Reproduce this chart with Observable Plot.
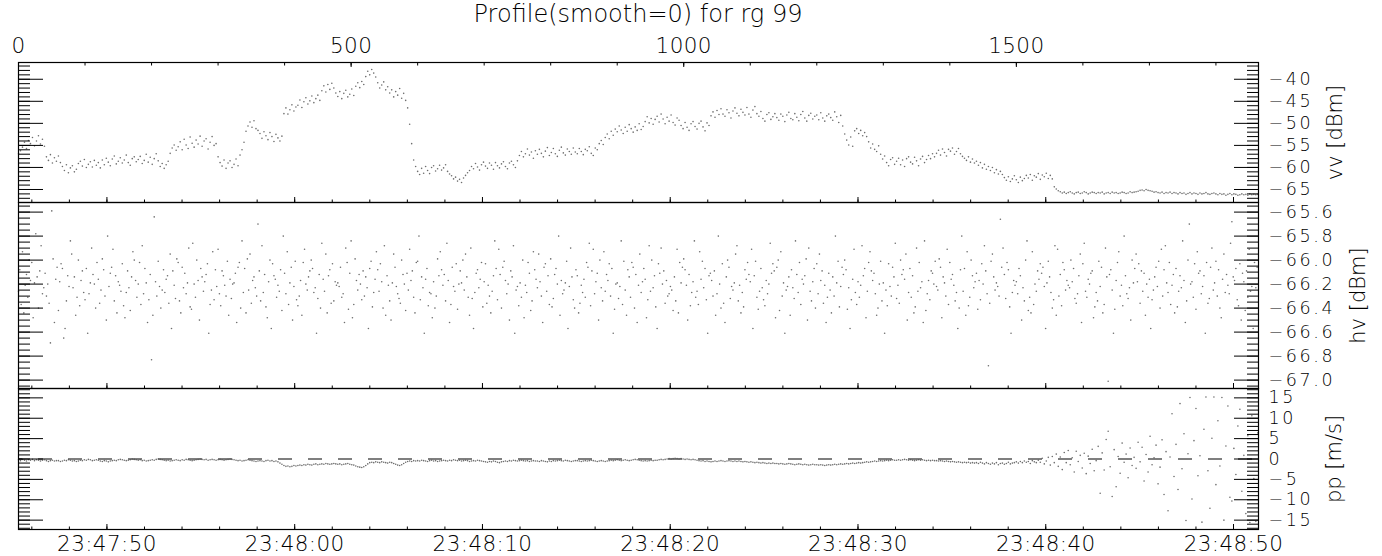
<!DOCTYPE html>
<html><head><meta charset="utf-8">
<script src="https://cdn.jsdelivr.net/npm/d3@7"></script>
<script src="https://cdn.jsdelivr.net/npm/@observablehq/plot@0.6"></script>
<style>
html,body{margin:0;padding:0;background:#fff;}
#chart{position:relative;width:1382px;height:556px;overflow:hidden;font-family:"DejaVu Sans",sans-serif;}
#chart svg{position:absolute;left:0;top:0;}
#title{position:absolute;left:18px;width:1240px;top:0;text-align:center;font-size:24px;line-height:28px;font-weight:200;color:#000;font-family:"DejaVu Sans",sans-serif;}
</style></head>
<body><div id="chart"><div id="title">Profile(smooth=0) for rg 99</div></div>
<script>
// ---- data (one value every <series>Step samples) ----
const sampleCount = 1864;
const vvStep = 3;
const vvValues = [
-56.9,-56.2,-55.4,-54.3,-55.7,-53.9,-54.6,-53.2,-55.1,-54.0,-52.8,-54.7,-53.6,-55.2,-57.6,-58.4,-57.1,-59.0,-57.8,-58.6,
-57.4,-58.9,-59.8,-60.7,-59.4,-61.2,-60.1,-59.6,-61.0,-60.4,-59.1,-58.6,-59.7,-58.2,-60.0,-59.3,-58.7,-59.9,-58.4,-59.5,
-58.9,-60.1,-58.3,-59.4,-57.9,-58.8,-59.6,-58.1,-57.4,-59.2,-58.6,-57.8,-59.0,-58.3,-57.2,-58.9,-59.5,-58.0,-57.6,-58.7,
-58.2,-57.5,-59.1,-58.4,-57.0,-58.8,-57.7,-59.3,-58.0,-56.9,-58.5,-59.8,-59.1,-60.2,-59.4,-58.6,-56.8,-55.6,-54.9,-56.1,
-55.3,-54.2,-56.0,-53.6,-54.9,-55.7,-53.1,-54.5,-55.4,-53.8,-54.7,-52.9,-55.2,-54.0,-53.5,-55.8,-54.3,-53.0,-55.0,-54.6,
-57.6,-58.9,-59.7,-58.3,-60.2,-59.0,-58.5,-60.0,-59.3,-58.1,-59.6,-57.2,-56.0,-54.3,-51.8,-50.6,-49.7,-50.9,-49.4,-51.2,
-51.6,-52.3,-53.4,-51.9,-52.8,-53.7,-52.1,-53.0,-54.1,-52.5,-53.3,-54.0,-52.9,-47.8,-46.5,-47.9,-46.9,-45.8,-47.2,-46.3,
-45.9,-44.7,-46.4,-45.1,-44.2,-45.6,-44.9,-43.8,-45.3,-44.4,-43.6,-44.8,-42.6,-41.5,-42.9,-41.2,-42.3,-40.9,-42.0,-43.1,
-43.9,-42.8,-44.4,-43.2,-42.5,-44.0,-43.4,-42.2,-43.7,-41.6,-40.8,-41.9,-40.5,-41.2,-39.4,-38.2,-39.0,-37.8,-38.6,-39.5,
-40.8,-42.0,-41.3,-40.6,-42.4,-41.7,-43.1,-42.4,-44.0,-42.8,-43.6,-42.1,-44.3,-43.2,-44.8,-46.5,-50.2,-54.6,-58.3,-59.8,
-60.9,-61.6,-60.2,-61.3,-59.8,-60.7,-61.4,-60.0,-59.6,-60.8,-60.3,-59.5,-60.6,-60.1,-59.4,-60.9,-61.5,-61.9,-62.6,-62.2,
-63.1,-62.7,-63.4,-62.4,-61.8,-61.2,-60.7,-59.8,-60.3,-59.1,-59.9,-60.6,-59.4,-58.8,-59.7,-60.2,-59.0,-59.5,-60.4,-58.9,
-59.6,-60.1,-59.2,-58.7,-59.8,-60.3,-59.0,-58.6,-59.4,-60.0,-58.5,-57.3,-56.4,-57.6,-56.9,-55.8,-57.2,-56.5,-57.9,-56.2,
-57.0,-55.9,-56.8,-57.6,-56.3,-55.5,-57.3,-56.6,-55.7,-56.9,-57.5,-56.1,-55.4,-56.7,-57.2,-55.8,-56.4,-57.0,-55.6,-56.5,
-56.9,-55.7,-56.4,-57.1,-55.9,-56.2,-55.3,-56.8,-57.3,-55.6,-56.0,-54.6,-53.9,-54.8,-53.2,-52.4,-53.5,-51.8,-52.7,-51.3,
-51.9,-50.6,-51.5,-52.3,-50.9,-51.8,-50.3,-51.2,-52.0,-50.8,-51.6,-50.1,-51.4,-50.7,-49.6,-48.5,-49.9,-48.9,-50.2,-49.1,
-48.4,-49.7,-47.9,-49.0,-50.1,-48.6,-49.5,-48.1,-49.8,-50.4,-48.8,-49.3,-50.5,-51.2,-49.8,-50.9,-51.6,-50.1,-49.6,-50.7,
-51.3,-50.0,-49.5,-50.8,-51.7,-49.9,-50.5,-48.3,-47.4,-48.6,-47.1,-48.0,-46.7,-47.9,-48.4,-46.9,-47.6,-48.8,-47.2,-46.5,
-47.7,-48.3,-46.8,-47.5,-48.1,-46.4,-47.9,-48.6,-47.0,-46.2,-47.8,-48.4,-47.3,-48.9,-49.5,-48.0,-47.6,-49.1,-48.5,-47.8,
-48.7,-49.3,-47.9,-48.4,-49.6,-48.1,-47.5,-48.9,-49.2,-47.8,-48.6,-49.4,-48.0,-47.3,-48.8,-49.5,-48.2,-47.7,-49.0,-48.4,
-48.1,-49.2,-47.6,-48.8,-49.5,-48.3,-47.9,-48.7,-49.3,-47.4,-48.5,-49.8,-48.2,-50.6,-52.4,-53.8,-54.9,-53.1,-55.2,-51.7,
-51.2,-52.3,-51.6,-52.8,-52.1,-53.0,-54.2,-55.6,-54.7,-55.9,-56.4,-55.1,-57.0,-58.1,-57.4,-58.9,-59.6,-58.2,-57.8,-59.3,
-58.6,-57.9,-59.4,-58.3,-59.8,-58.0,-57.6,-58.8,-59.2,-57.7,-58.5,-59.6,-58.1,-57.5,-58.9,-58.2,-57.3,-58.0,-56.9,-57.6,
-56.8,-56.1,-57.2,-55.8,-56.6,-57.4,-55.9,-56.3,-55.6,-57.0,-56.4,-55.7,-56.9,-57.5,-57.9,-58.4,-57.6,-58.8,-58.1,-59.0,
-58.6,-59.5,-58.9,-60.1,-59.3,-60.4,-59.8,-60.7,-60.0,-61.2,-60.5,-61.5,-60.9,-61.6,-62.3,-62.9,-62.1,-63.2,-62.6,-61.9,
-62.8,-63.4,-62.2,-63.0,-62.5,-61.8,-62.4,-61.6,-62.9,-61.9,-62.2,-61.4,-62.7,-61.7,-62.1,-61.3,-62.5,-61.8,-62.6,-64.4,
-64.9,-65.3,-65.5,-65.8,-65.6,-65.9,-65.7,-65.5,-65.8,-66.0,-65.7,-65.6,-65.9,-65.8,-65.5,-65.7,-66.0,-65.8,-65.6,-65.7,
-65.9,-65.7,-65.8,-65.6,-66.0,-65.8,-65.7,-65.9,-65.6,-65.8,-65.7,-65.9,-65.8,-65.6,-65.7,-65.9,-65.8,-65.5,-65.7,-65.6,
-65.5,-65.4,-65.2,-65.1,-65.3,-65.0,-65.2,-65.3,-65.4,-65.6,-65.5,-65.7,-65.8,-65.6,-65.9,-65.7,-65.8,-65.6,-65.9,-65.7,
-65.8,-66.0,-65.7,-65.9,-65.8,-66.1,-65.9,-65.7,-66.0,-65.8,-65.9,-66.1,-65.8,-66.0,-65.9,-65.7,-66.0,-66.1,-65.9,-65.8,
-66.0,-66.2,-65.9,-66.1,-66.0,-66.3,-66.1,-65.9,-66.2,-66.0,-66.1,-66.3,-66.2,-66.0,-66.2,-66.1,-66.3,-66.0,-66.2,-66.1,
-66.2,-66.1
];
const hvStep = 2;
const hvValues = [
-66.26,-66.08,-66.37,-65.93,-66.44,-66.21,-66.12,-66.31,-66.00,-66.17,
-66.02,-66.48,-66.19,-65.78,-66.14,-66.40,-66.09,-65.88,-66.28,-66.23,
-66.11,-66.30,-66.20,-66.36,-66.69,-65.59,-65.99,-66.52,-66.16,-66.06,
-66.42,-66.18,-66.03,-66.07,-66.65,-66.57,-66.34,-66.13,-66.22,-65.84,
-65.95,-66.23,-66.14,-66.46,-66.31,-66.00,-66.38,-66.17,-66.09,-66.27,
-66.33,-66.07,-66.61,-66.28,-66.19,-65.90,-66.12,-66.20,-66.40,-66.02,
-66.16,-66.36,-66.25,-65.99,-66.08,-66.30,-66.50,-65.80,-66.22,-66.11,
-66.06,-65.91,-66.34,-66.13,-66.44,-66.18,-66.21,-66.26,-66.03,-66.38,
-66.48,-66.27,-66.09,-66.23,-66.42,-66.14,-65.93,-66.00,-66.17,-66.31,
-66.20,-66.02,-66.37,-65.88,-66.28,-66.07,-66.19,-66.52,-66.33,-66.12,
-66.83,-66.46,-65.64,-66.18,-66.30,-66.01,-66.22,-66.40,-66.25,-66.08,
-66.27,-66.16,-66.13,-66.36,-65.95,-66.57,-66.09,-66.21,-66.32,-65.99,
-66.02,-66.34,-66.44,-66.06,-66.23,-66.11,-66.28,-66.19,-65.90,-66.39,
-66.41,-65.86,-66.20,-66.31,-66.00,-66.17,-66.50,-66.07,-66.14,-66.26,
-66.18,-66.12,-66.03,-66.61,-66.37,-66.25,-65.93,-66.33,-66.08,-66.22,
-65.91,-66.28,-66.38,-66.09,-66.13,-66.21,-66.30,-66.01,-66.46,-66.16,
-66.32,-66.20,-66.19,-66.11,-66.52,-66.06,-66.02,-66.40,-65.84,-66.27,
-66.07,-66.44,-65.99,-66.25,-65.95,-66.36,-66.17,-66.14,-66.23,-66.30,
-65.70,-66.09,-66.34,-65.88,-66.27,-66.12,-66.39,-66.48,-66.18,-66.00,
-66.57,-66.03,-66.13,-66.16,-66.31,-66.21,-66.26,-66.08,-66.42,-65.80,
-66.11,-66.28,-65.93,-66.37,-66.19,-66.06,-66.50,-66.22,-66.01,-66.33,
-66.38,-66.30,-66.17,-66.46,-66.02,-65.91,-66.20,-66.25,-66.14,-66.09,
-66.00,-66.07,-66.27,-66.23,-66.61,-66.32,-66.12,-66.40,-65.86,-66.16,
-66.26,-65.95,-66.44,-66.13,-66.08,-66.36,-66.03,-66.34,-66.18,-66.21,
-66.19,-66.22,-66.06,-66.31,-66.28,-66.52,-65.90,-66.02,-66.41,-66.11,
-65.84,-66.48,-66.37,-65.99,-66.17,-66.25,-66.12,-66.20,-66.33,-66.09,
-66.30,-66.14,-66.23,-66.57,-66.07,-66.01,-66.39,-66.27,-66.16,-65.93,
-66.08,-66.26,-66.03,-66.18,-66.40,-65.88,-66.46,-66.13,-66.21,-66.34,
-66.50,-66.19,-65.95,-66.06,-66.22,-66.28,-66.32,-66.36,-66.00,-66.12,
-66.20,-66.42,-66.11,-66.25,-65.91,-66.17,-66.09,-66.31,-66.44,-66.02,
-66.01,-65.80,-66.33,-66.14,-66.23,-66.61,-66.16,-66.07,-66.38,-66.27,
-66.28,-66.48,-66.18,-66.40,-66.30,-65.99,-66.13,-65.93,-66.08,-66.21,
-66.12,-66.34,-65.86,-66.17,-66.52,-66.37,-66.06,-66.22,-66.26,-66.03,
-66.41,-66.20,-66.09,-66.19,-66.00,-66.25,-65.95,-66.14,-66.31,-66.46,
-65.90,-66.32,-66.57,-66.27,-66.11,-66.08,-66.23,-66.16,-66.02,-66.39,
-66.18,-66.03,-66.36,-66.21,-66.30,-66.44,-66.26,-66.13,-65.84,-66.07,
-66.33,-65.91,-66.12,-66.40,-66.06,-66.01,-66.17,-66.28,-66.20,-66.50,
-66.09,-66.14,-65.88,-66.61,-66.25,-66.22,-66.38,-66.19,-66.31,-66.00,
-66.48,-66.21,-66.27,-66.02,-66.11,-66.42,-66.34,-65.93,-66.08,-66.16,
-66.23,-65.95,-66.18,-66.30,-66.52,-66.06,-66.03,-66.26,-66.13,-66.37,
-65.99,-66.39,-66.32,-66.12,-66.07,-66.20,-65.80,-66.46,-66.17,-66.28,
-66.25,-66.19,-66.01,-66.57,-66.22,-65.90,-66.14,-66.33,-66.40,-66.08,
-66.13,-66.44,-66.36,-66.21,-66.27,-66.16,-66.31,-66.02,-66.06,-65.86,
-66.38,-66.09,-65.91,-66.28,-66.18,-66.11,-66.50,-66.00,-66.23,-66.34,
-65.93,-66.26,-66.12,-66.17,-66.03,-66.30,-66.07,-66.61,-66.41,-66.20,
-66.19,-66.32,-66.22,-65.84,-66.37,-66.01,-66.25,-66.46,-66.08,-66.14,
-66.31,-66.02,-66.06,-66.40,-66.12,-66.52,-66.21,-65.95,-66.27,-66.18,
-66.07,-66.16,-66.48,-66.33,-65.88,-66.26,-66.00,-66.23,-66.13,-66.39,
-66.57,-66.03,-66.11,-65.90,-66.20,-66.09,-66.36,-66.17,-66.30,-66.28,
-66.22,-66.25,-66.42,-66.14,-66.34,-65.91,-66.44,-66.02,-66.19,-66.06,
-65.99,-66.08,-66.21,-66.50,-66.12,-66.38,-66.27,-66.18,-65.84,-66.31,
-66.26,-66.37,-65.93,-66.16,-66.01,-66.23,-66.07,-66.33,-66.61,-66.13,
-66.11,-66.17,-66.30,-66.09,-66.46,-66.28,-65.80,-66.20,-66.40,-66.03,
-66.36,-66.52,-66.14,-66.00,-66.06,-66.32,-66.22,-66.25,-66.19,-65.95,
-65.88,-66.34,-66.21,-66.44,-66.27,-66.39,-66.08,-66.16,-66.02,-66.12,
-66.18,-65.91,-66.57,-66.13,-66.01,-66.31,-66.41,-66.26,-66.07,-66.23,
-66.33,-66.38,-66.17,-66.28,-66.20,-65.86,-66.11,-66.03,-66.09,-66.48,
-66.06,-66.00,-66.42,-65.93,-66.30,-66.19,-66.61,-66.25,-66.22,-66.14,
-66.46,-66.08,-66.23,-66.32,-65.84,-66.12,-66.27,-66.02,-66.37,-66.16,
-66.20,-66.13,-65.99,-66.50,-65.90,-66.26,-66.34,-66.18,-66.07,-66.40,
-66.03,-66.28,-65.95,-66.17,-66.09,-66.36,-66.21,-66.52,-66.31,-66.11,
-66.25,-66.44,-66.14,-66.30,-65.80,-66.19,-66.01,-66.39,-66.22,-66.06,
-66.12,-66.00,-66.08,-66.41,-66.23,-66.57,-66.33,-66.16,-65.91,-66.27,
-66.37,-66.18,-66.31,-66.21,-65.88,-66.13,-66.07,-66.48,-66.26,-66.02,
-65.93,-66.09,-66.17,-66.11,-66.28,-66.46,-66.40,-66.20,-66.01,-66.34,
-66.19,-66.61,-66.25,-66.38,-66.03,-66.22,-66.30,-66.06,-66.14,-65.86,
-66.32,-66.21,-66.36,-66.00,-66.12,-66.08,-66.16,-65.95,-66.50,-66.27,
-66.07,-66.31,-66.13,-66.44,-66.39,-65.90,-66.26,-66.02,-66.23,-66.18,
-66.52,-65.84,-66.42,-66.28,-66.17,-66.33,-66.09,-66.11,-66.20,-66.01,
-66.22,-66.25,-65.99,-66.06,-66.48,-66.14,-66.19,-66.30,-65.91,-66.37,
-66.02,-66.16,-66.12,-66.21,-66.34,-66.27,-66.57,-66.40,-66.08,-65.80,
-66.26,-66.07,-66.46,-65.93,-66.38,-66.31,-66.00,-66.13,-66.23,-66.18,
-66.11,-66.41,-66.17,-66.33,-66.03,-66.20,-65.88,-66.09,-66.28,-66.88,
-66.36,-66.01,-65.95,-66.14,-66.25,-66.19,-66.22,-66.30,-65.66,-66.06,
-65.90,-66.12,-66.32,-66.02,-66.08,-66.39,-66.61,-66.27,-66.17,-66.21,
-66.18,-66.28,-66.07,-66.13,-66.50,-66.23,-66.34,-66.00,-65.84,-66.42,
-66.31,-66.44,-65.93,-66.37,-66.20,-66.26,-66.09,-66.16,-66.03,-66.11,
-66.06,-66.22,-66.57,-66.19,-66.01,-66.14,-66.27,-66.40,-66.33,-65.88,
-66.46,-65.91,-66.30,-66.12,-66.38,-66.02,-66.08,-66.25,-66.17,-66.21,
-66.23,-66.00,-66.18,-66.07,-66.32,-66.36,-66.28,-66.13,-65.95,-66.52,
-66.03,-65.86,-66.26,-66.31,-66.16,-66.20,-66.11,-66.09,-66.48,-66.39,
-66.27,-66.34,-66.01,-66.22,-66.06,-66.44,-66.37,-65.90,-66.14,-67.01,
-66.12,-66.08,-66.25,-66.61,-66.41,-66.17,-66.02,-65.93,-66.30,-66.21,
-66.38,-65.80,-66.13,-66.28,-66.32,-66.23,-66.50,-66.00,-66.19,-66.07,
-65.95,-66.18,-66.03,-66.36,-66.09,-66.26,-66.11,-66.46,-66.20,-66.31,
-66.16,-66.57,-66.33,-66.25,-66.14,-66.06,-66.22,-66.01,-66.40,-65.91,
-66.30,-66.08,-65.88,-66.19,-66.27,-66.02,-66.37,-66.21,-66.12,-66.44,
-66.07,-66.39,-66.26,-66.13,-66.23,-65.84,-66.17,-66.52,-66.34,-66.00,
-65.70,-66.20,-66.18,-66.31,-66.03,-66.41,-65.93,-66.11,-66.09,-66.28,
-66.22,-66.13,-66.61,-66.02,-66.36,-66.32,-66.06,-65.90,-66.25,-66.19,
-66.01,-66.30,-66.08,-66.40,-66.48,-66.16,-65.95,-66.27,-66.12,-66.21,
-66.28,-65.86,-65.68,-66.14,-66.17,-66.07,-66.33,-66.38,-66.03,-66.50,
-66.11,-66.18,-66.42,-66.09,-66.31,-65.91,-66.26,-66.22,-66.57,-66.02,
-66.23,-66.06
];
const ppStep = 3;
const ppValues = [
-0.2,-0.4,-0.1,-0.3,-0.5,-0.2,-0.3,-0.1,-0.4,-0.2,-0.3,-0.5,-0.3,-0.2,-0.4,-0.6,-0.4,-0.3,-0.5,-0.4,
-0.4,-0.6,-0.5,-0.3,-0.4,-0.2,-0.3,-0.5,-0.4,-0.6,-0.5,-0.3,-0.4,-0.2,-0.3,-0.1,-0.2,-0.4,-0.3,-0.2,
-0.3,-0.5,-0.6,-0.4,-0.5,-0.7,-0.5,-0.4,-0.3,-0.4,-0.2,-0.1,-0.2,-0.3,-0.4,-0.3,-0.2,0.0,-0.1,-0.2,
-0.3,-0.2,-0.4,-0.3,-0.5,-0.4,-0.3,-0.2,-0.3,-0.1,0.0,-0.1,-0.2,-0.3,-0.4,-0.3,-0.5,-0.4,-0.3,-0.2,
-0.3,-0.4,-0.2,-0.3,-0.1,-0.2,-0.3,-0.4,-0.3,-0.2,-0.1,0.0,-0.1,-0.2,-0.1,-0.3,-0.2,-0.1,-0.2,-0.3,
-0.2,-0.1,-0.2,-0.3,-0.2,-0.1,0.0,-0.1,-0.2,-0.3,-0.4,-0.3,-0.5,-0.4,-0.3,-0.2,-0.3,-0.4,-0.5,-0.6,
-0.5,-0.4,-0.5,-0.6,-0.4,-0.3,-0.5,-0.4,-0.6,-0.5,-0.7,-1.0,-1.3,-1.6,-1.8,-1.7,-1.9,-1.8,-1.6,-1.7,
-1.6,-1.5,-1.6,-1.4,-1.5,-1.3,-1.4,-1.5,-1.3,-1.2,-1.4,-1.3,-1.2,-1.3,-1.1,-1.2,-1.3,-1.2,-1.1,-1.2,
-1.3,-1.2,-1.4,-1.3,-1.2,-1.1,-1.3,-1.4,-1.5,-1.7,-1.9,-2.0,-2.1,-1.9,-1.6,-1.2,-0.9,-0.8,-0.9,-0.7,
-0.8,-0.9,-0.7,-0.8,-0.9,-1.0,-0.8,-0.9,-1.1,-1.3,-1.5,-1.6,-1.4,-1.1,-0.8,-0.6,-0.5,-0.6,-0.4,-0.5,
-0.4,-0.5,-0.3,-0.4,-0.5,-0.6,-0.4,-0.3,-0.5,-0.4,-0.6,-0.5,-0.4,-0.3,-0.4,-0.5,-0.3,-0.4,-0.2,-0.3,
-0.4,-0.3,-0.5,-0.4,-0.3,-0.4,-0.6,-0.5,-0.4,-0.5,-0.3,-0.4,-0.5,-0.6,-0.7,-0.8,-0.6,-0.7,-0.5,-0.6,
-0.8,-0.9,-0.7,-0.6,-0.5,-0.6,-0.4,-0.5,-0.3,-0.4,-0.5,-0.4,-0.3,-0.4,-0.5,-0.4,-0.6,-0.5,-0.4,-0.5,
-0.5,-0.6,-0.4,-0.5,-0.6,-0.7,-0.5,-0.6,-0.4,-0.5,-0.4,-0.3,-0.4,-0.5,-0.3,-0.4,-0.5,-0.6,-0.5,-0.4,
-0.4,-0.5,-0.6,-0.5,-0.4,-0.5,-0.4,-0.3,-0.4,-0.5,-0.6,-0.5,-0.4,-0.5,-0.6,-0.5,-0.4,-0.3,-0.4,-0.3,
-0.2,-0.3,-0.4,-0.3,-0.2,-0.3,-0.4,-0.3,-0.2,-0.1,-0.2,-0.3,-0.4,-0.5,-0.4,-0.5,-0.4,-0.3,-0.4,-0.3,
-0.3,-0.2,-0.1,-0.2,-0.1,0.0,0.1,0.0,0.1,0.2,0.1,0.0,0.1,0.0,-0.1,0.0,-0.1,-0.2,-0.1,-0.2,
-0.3,-0.4,-0.5,-0.4,-0.6,-0.5,-0.6,-0.7,-0.6,-0.5,-0.6,-0.5,-0.4,-0.5,-0.6,-0.5,-0.4,-0.5,-0.6,-0.5,
-0.6,-0.5,-0.6,-0.7,-0.6,-0.7,-0.8,-0.7,-0.8,-0.9,-0.8,-0.9,-1.0,-0.9,-1.0,-1.1,-1.0,-1.1,-1.0,-1.1,
-1.1,-1.2,-1.1,-1.2,-1.3,-1.2,-1.1,-1.2,-1.3,-1.4,-1.3,-1.2,-1.3,-1.4,-1.3,-1.4,-1.5,-1.4,-1.3,-1.4,
-1.4,-1.5,-1.4,-1.5,-1.6,-1.5,-1.4,-1.5,-1.4,-1.3,-1.4,-1.3,-1.2,-1.3,-1.2,-1.1,-1.2,-1.1,-1.0,-1.1,
-1.0,-0.9,-1.0,-0.9,-0.8,-0.7,-0.8,-0.7,-0.6,-0.5,-0.6,-0.5,-0.4,-0.5,-0.4,-0.3,-0.4,-0.3,-0.2,-0.3,
-0.3,-0.2,-0.3,-0.2,-0.1,-0.2,-0.3,-0.2,-0.3,-0.4,-0.3,-0.2,-0.3,-0.2,-0.3,-0.4,-0.3,-0.4,-0.3,-0.4,
-0.4,-0.5,-0.4,-0.5,-0.6,-0.5,-0.6,-0.7,-0.6,-0.7,-0.8,-0.7,-0.8,-0.9,-0.8,-0.9,-0.8,-1.0,-0.9,-1.0,
-0.9,-1.1,-0.8,-1.0,-1.2,-0.9,-1.1,-1.3,-1.0,-1.2,-0.9,-1.4,-1.1,-1.0,-1.3,-1.1,-0.8,-1.2,-1.0,-0.9,
-0.7,-1.0,-0.6,-0.9,-0.5,-0.8,-0.6,-1.1,-0.4,-0.7,-0.9,-0.3,-0.8,0.2,-1.2,-0.5,0.4,-1.5,0.6,-0.9,
1.2,-1.8,0.5,-2.6,1.6,-0.9,2.1,-1.4,0.3,-3.2,1.9,-0.6,0.9,-2.2,1.4,-3.6,0.7,-1.1,2.4,-2.9,
-0.4,3.1,-8.4,1.5,-2.7,4.8,6.8,-1.9,-9.2,2.3,-6.8,0.6,-3.5,3.9,-0.8,1.2,-4.6,2.7,-1.6,0.4,
-2.3,4.1,-0.7,2.9,-5.4,1.1,-3.2,5.6,-1.4,0.3,3.4,-6.1,-2.0,4.7,-8.7,1.8,-12.7,0.5,11.1,-4.3,
3.6,-7.5,13.6,-2.4,6.2,-15.1,1.3,15.1,-9.8,4.5,12.4,-4.1,0.8,-15.5,7.3,15.2,-2.9,-12.1,5.1,15.2,
-6.3,9.4,-1.7,15.1,-15.0,3.2,13.0,-9.4,-10.3,2.6,-3.8,8.1,12.2,-7.9,0.9,-13.4,5.7,-15.6,10.6,-4.8,
-15.3,6.4
];
// ---- axes configuration ----
const sampleIndexTicks = [0, 500, 1000, 1500];
const sampleIndexMinorStep = 100;
const firstSampleTime = "23:47:45.29";
const samplesPerSecond = 28.225;
const timeTickLabels = ["23:47:50","23:48:00","23:48:10","23:48:20","23:48:30","23:48:40","23:48:50"];
const timeMinorStart = "23:47:46", timeMinorEnd = "23:48:50", timeMinorStepSec = 2;
const vvDomain = [-67.95, -36.2], vvTicks = [-65,-60,-55,-50,-45,-40], vvMinorStep = 1;
const hvDomain = [-67.07, -65.52], hvTicks = [-67.0,-66.8,-66.6,-66.4,-66.2,-66.0,-65.8,-65.6], hvMinorStep = 0.05;
const ppDomain = [-17.3, 17.3], ppTicks = [-15,-10,-5,0,5,10,15], ppMinorStep = 1;
const panelLabels = ["vv [dBm]", "hv [dBm]", "pp [m/s]"];
const ppReference = [0];

// ---- helpers ----
const secs = s => { const [h, m, x] = s.split(":"); return +h * 3600 + +m * 60 + +x; };
const idxOf = s => (secs(s) - secs(firstSampleTime)) * samplesPerSecond;
const timeMajorIdx = timeTickLabels.map(idxOf);
const timeLabelOf = new Map(timeMajorIdx.map((v, i) => [v, timeTickLabels[i]]));
const timeMinorIdx = d3.range(secs(timeMinorStart), secs(timeMinorEnd) + 0.5, timeMinorStepSec).map(s => (s - secs(firstSampleTime)) * samplesPerSecond);
const minorTicks = (dom, step) => d3.range(Math.ceil(dom[0] / step - 1e-6), Math.floor(dom[1] / step + 1e-6) + 1).map(k => +(k * step).toFixed(4));
const toData = (vals, step) => vals.map((v, i) => ({i: i * step, v}));

const W = 1382, H = 556, ML = 18, MR = 124;
const FONT = "DejaVu Sans, sans-serif";
const FS = 21.5, FSR = 17.5, FSL = 21;
const noText = () => "";

function panel({values, step, domain, ticks, minorStep, label, labelOffset, format, top, bottom, extraTop = [], extraAfter = [], timeLabels = false}) {
  const minor = minorTicks(domain, minorStep);
  const marks = [
    ...extraTop,
    Plot.dot(toData(values, step), {x: "i", y: "v", r: 0.8, fill: "#6e6e6e", stroke: "none"}),
    ...extraAfter,
    Plot.axisY({anchor: "left", ticks: minor, tickSize: -12, tickFormat: noText, label: null, stroke: "#000"}),
    Plot.axisY({anchor: "left", ticks, tickSize: -25, tickFormat: noText, label: null, stroke: "#000"}),
    Plot.axisY({anchor: "right", ticks: minor, tickSize: -12, tickFormat: noText, label: null, stroke: "#000"}),
    Plot.axisY({anchor: "right", ticks, tickSize: -25, tickFormat: noText, label: null, stroke: "#000"}),
    Plot.axisY({anchor: "right", ticks, tickSize: 0, tickPadding: 10, tickFormat: format, fontSize: FSR, label: null, fill: "#000"}),
    Plot.axisY({anchor: "right", ticks: [ticks[0]], tickSize: 0, tickFormat: noText, fontSize: FSL,
      label, labelAnchor: "center", labelOffset, labelArrow: "none", fill: "#000"}),
    Plot.axisX({anchor: "bottom", ticks: timeMinorIdx, tickSize: -2.5, tickFormat: noText, label: null, stroke: "#000"}),
    Plot.axisX({anchor: "bottom", ticks: timeMajorIdx, tickSize: -5, tickFormat: noText, label: null, stroke: "#000"}),
    Plot.frame({stroke: "#000", strokeWidth: 1.2})
  ];
  if (timeLabels) marks.push(Plot.axisX({anchor: "bottom", ticks: timeMajorIdx, tickSize: 0, tickPadding: 6,
    tickFormat: d => timeLabelOf.get(d), fontSize: FS, label: null, fill: "#000"}));
  const svg = Plot.plot({
    width: W, height: H,
    marginLeft: ML, marginRight: MR, marginTop: top, marginBottom: H - bottom,
    x: {domain: [0, sampleCount]},
    y: {domain},
    style: {background: "transparent", fontFamily: FONT, fontSize: FS + "px", fontWeight: 200, overflow: "visible"},
    marks
  });
  // widen glyph spacing of tick labels, like the original vector font
  d3.select(svg).selectAll('g[aria-label="y-axis tick label"]').attr("letter-spacing", "2.6px");
  d3.select(svg).selectAll('g[aria-label="x-axis tick label"]').attr("letter-spacing", "0.4px");
  return svg;
}

const chart = document.getElementById("chart");
const p1 = panel({
  values: vvValues, step: vvStep, domain: vvDomain, ticks: vvTicks, minorStep: vvMinorStep,
  label: panelLabels[0], labelOffset: 83, format: d3.format(".0f"), top: 62, bottom: 202,
  extraTop: [
    Plot.axisX({anchor: "top", ticks: d3.range(0, sampleCount, sampleIndexMinorStep), tickSize: -2.5, tickFormat: noText, label: null, stroke: "#000"}),
    Plot.axisX({anchor: "top", ticks: sampleIndexTicks, tickSize: -4, tickFormat: noText, label: null, stroke: "#000"}),
    Plot.axisX({anchor: "top", ticks: sampleIndexTicks, tickSize: 0, tickPadding: 10, tickFormat: d3.format("d"), fontSize: FS, label: null, fill: "#000"})
  ]
});
const p2 = panel({
  values: hvValues, step: hvStep, domain: hvDomain, ticks: hvTicks, minorStep: hvMinorStep,
  label: panelLabels[1], labelOffset: 106, format: d3.format(".1f"), top: 202, bottom: 388
});
const p3 = panel({
  values: ppValues, step: ppStep, domain: ppDomain, ticks: ppTicks, minorStep: ppMinorStep,
  label: panelLabels[2], labelOffset: 82, format: d3.format("d"), top: 388, bottom: 529,
  extraAfter: [Plot.ruleY(ppReference, {stroke: "#555", strokeWidth: 1.5, strokeDasharray: "14,16", strokeDashoffset: 10})],
  timeLabels: true
});
chart.append(p1, p2, p3);
</script>
</body></html>
